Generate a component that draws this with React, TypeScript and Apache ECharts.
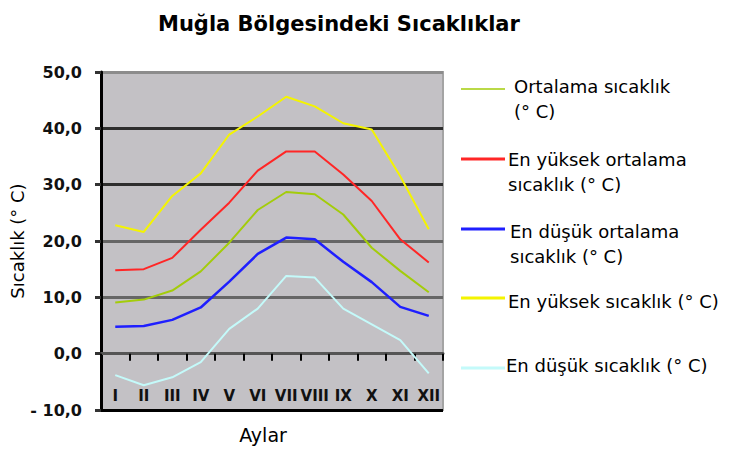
import React, { useEffect, useRef } from "react";
import * as echarts from "echarts";

const titleText = "Muğla Bölgesindeki Sıcaklıklar";
const yAxisName = "Sıcaklık (° C)";
const xAxisName = "Aylar";
const months = ["I", "II", "III", "IV", "V", "VI", "VII", "VIII", "IX", "X", "XI", "XII"];
const yMin = -10;
const yMax = 50;
const yStep = 10;

const ortalama = [9.1, 9.6, 11.2, 14.6, 19.7, 25.5, 28.7, 28.3, 24.7, 18.8, 14.7, 10.9];
const enYuksekOrt = [14.8, 15.0, 17.0, 22.0, 26.8, 32.5, 35.9, 35.9, 31.8, 27.1, 20.3, 16.2];
const enDusukOrt = [4.8, 4.9, 6.0, 8.2, 12.8, 17.7, 20.6, 20.3, 16.3, 12.7, 8.3, 6.7];
const enYuksek = [22.8, 21.6, 28.0, 32.0, 38.9, 42.1, 45.6, 43.9, 40.9, 39.8, 31.5, 22.1];
const enDusuk = [-3.8, -5.6, -4.2, -1.5, 4.4, 8.0, 13.8, 13.5, 8.0, 5.2, 2.4, -3.5];

const seriesNames = [
  "Ortalama sıcaklık\n(° C)",
  "En yüksek ortalama\nsıcaklık (° C)",
  "En düşük ortalama\nsıcaklık (° C)",
  "En yüksek sıcaklık (° C)",
  "En düşük sıcaklık (° C)",
];
const seriesData = [ortalama, enYuksekOrt, enDusukOrt, enYuksek, enDusuk];
const seriesColors = ["#a3cc0a", "#ff2626", "#1f1fff", "#f4f400", "#c4fafa"];
const seriesWidths = [2, 2, 2.5, 2, 2];

const FONT = "DejaVu Sans";
const W = 739;
const H = 450;
const GRID = { left: 101, right: 296, top: 72, bottom: 40 };

const fmt = (v: number) =>
  v < 0 ? "- " + Math.abs(v).toFixed(1).replace(".", ",") : v.toFixed(1).replace(".", ",");

export default function App() {
  const ref = useRef<HTMLDivElement>(null);
  useEffect(() => {
    if (!ref.current) return;
    const chart = echarts.init(ref.current, undefined, { renderer: "svg" });

    const legendY = [89, 159, 229, 298, 368];
    const legendTextY = [99, 171.5, 244, 301, 365];
    const legendTextX = [514, 508, 510, 508, 506];
    const legendLineW = [1.5, 3, 3, 3, 3];
    const legendGraphics: any[] = [];
    seriesNames.forEach((n, i) => {
      legendGraphics.push({
        type: "line",
        shape: { x1: 461, y1: legendY[i], x2: 505, y2: legendY[i] },
        style: { stroke: seriesColors[i], lineWidth: legendLineW[i] },
      });
      legendGraphics.push({
        type: "text",
        x: legendTextX[i],
        y: legendTextY[i],
        style: {
          text: n,
          fill: "#000",
          font: `18px "${FONT}"`,
          verticalAlign: "middle",
          align: "left",
          lineHeight: 25,
        },
      });
    });

    // the category axis sits on the zero line of the value scale
    const plotH = H - GRID.top - GRID.bottom;
    const zeroOffset = -plotH * (0 - yMin) / (yMax - yMin);

    chart.setOption({
      animation: false,
      backgroundColor: "#ffffff",
      title: {
        text: titleText,
        left: 153,
        top: 8,
        textStyle: { fontFamily: FONT, fontWeight: "bold", fontSize: 21, color: "#000" },
      },
      grid: {
        ...GRID,
        containLabel: false,
        outerBoundsMode: "none",
        show: true,
        backgroundColor: "#c3c1c5",
        borderColor: "#a4a4a4",
        borderWidth: 2,
      },
      xAxis: {
        type: "category",
        data: months,
        boundaryGap: true,
        offset: zeroOffset,
        axisLine: { show: true, onZero: false, lineStyle: { color: "#555", width: 3 } },
        axisTick: { show: true, length: 7, lineStyle: { color: "#000", width: 2 } },
        axisLabel: {
          margin: 35,
          fontFamily: FONT,
          fontWeight: "bold",
          fontSize: 15,
          color: "#111",
          interval: 0,
        },
        name: xAxisName,
        nameLocation: "middle",
        nameGap: 72,
        nameTextStyle: { fontFamily: FONT, fontSize: 19, color: "#000", padding: [0, 18, 0, 0] },
        splitLine: { show: false },
      },
      yAxis: {
        type: "value",
        min: yMin,
        max: yMax,
        interval: yStep,
        axisLine: { show: true, onZero: false, lineStyle: { color: "#000", width: 3 } },
        axisTick: { show: true, length: 6, lineStyle: { color: "#333", width: 3 } },
        axisLabel: {
          margin: 19,
          fontFamily: FONT,
          fontWeight: "bold",
          fontSize: 16,
          color: "#111",
          formatter: (v: number) => fmt(v),
        },
        splitLine: {
          show: true,
          showMinLine: true,
          showMaxLine: true,
          lineStyle: {
            color: ["#000000", "#555555", "#666666", "#666666", "#2e2e2e", "#2e2e2e", "#8c8c8c"],
            width: 3,
          },
        },
        name: yAxisName,
        nameLocation: "middle",
        nameRotate: 90,
        nameGap: 68,
        nameTextStyle: { fontFamily: FONT, fontSize: 18, color: "#000" },
      },
      series: seriesNames.map((n, i) => ({
        type: "line",
        name: n,
        data: seriesData[i],
        showSymbol: false,
        symbol: "none",
        lineStyle: { color: seriesColors[i], width: seriesWidths[i] },
        itemStyle: { color: seriesColors[i] },
      })),
      graphic: legendGraphics,
    });
    return () => chart.dispose();
  }, []);
  return (
    <div
      ref={ref}
      style={{ position: "fixed", left: 0, top: 0, width: W, height: H, background: "#fff" }}
    />
  );
}
